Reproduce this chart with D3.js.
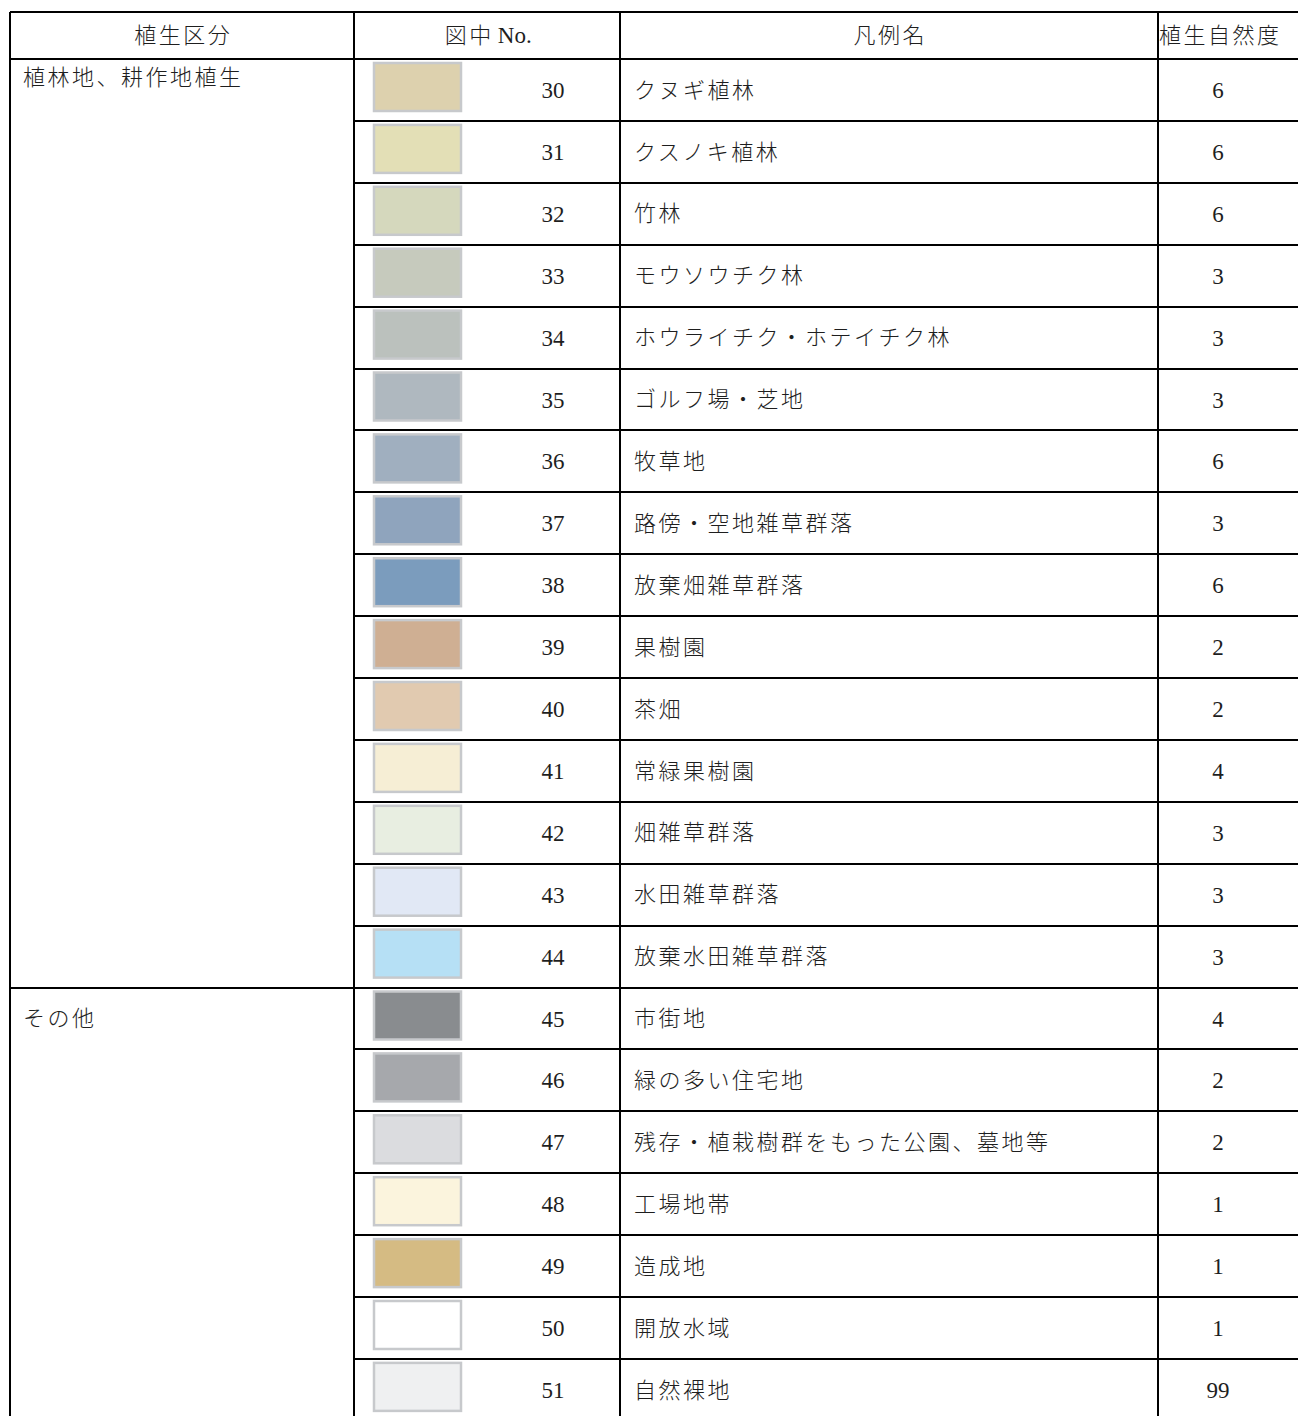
<!DOCTYPE html>
<html>
<head>
<meta charset="utf-8">
<script src="https://cdn.jsdelivr.net/npm/d3@7"></script>
<style>
  body { margin: 0; background: #fff; }
  svg { display: block; }
  .jp { font-family: "Noto Sans CJK JP", sans-serif; font-size: 22px; letter-spacing: 2.5px; fill: #1e1e1e; font-weight: 300; }
  .num { font-family: "Liberation Serif", serif; font-size: 23px; fill: #1e1e1e; font-weight: 400; letter-spacing: 0; }
</style>
</head>
<body>
<svg id="table"></svg>
<script>
// column headers
const headers = ["植生区分", "図中", "凡例名", "植生自然度"];

// groups (first column) and how many rows each spans
const groups = ["植林地、耕作地植生", "その他"];
const groupSizes = [15, 7];

// rows
const codes = [30, 31, 32, 33, 34, 35, 36, 37, 38, 39, 40, 41, 42, 43, 44, 45, 46, 47, 48, 49, 50, 51];
const names = [
  "クヌギ植林", "クスノキ植林", "竹林", "モウソウチク林", "ホウライチク・ホテイチク林",
  "ゴルフ場・芝地", "牧草地", "路傍・空地雑草群落", "放棄畑雑草群落", "果樹園",
  "茶畑", "常緑果樹園", "畑雑草群落", "水田雑草群落", "放棄水田雑草群落",
  "市街地", "緑の多い住宅地", "残存・植栽樹群をもった公園、墓地等", "工場地帯", "造成地",
  "開放水域", "自然裸地"
];
const naturalness = [6, 6, 6, 3, 3, 3, 6, 3, 6, 2, 2, 4, 3, 3, 3, 4, 2, 2, 1, 1, 1, 99];
const swatchColors = [
  "#ddd1ae", "#e3dfb6", "#d5d8bd", "#c6cabd", "#bbc1bd",
  "#afb8bf", "#a0afbf", "#8fa4bd", "#7b9cbd", "#cfaf93",
  "#e1cab0", "#f6eed5", "#e8eee1", "#e1e8f5", "#b6e0f5",
  "#898c8f", "#a6a8ac", "#dbdcdf", "#fbf4dd", "#d5bb83",
  "#ffffff", "#eff0f1"
];

const W = 1298, H = 1416;
const colEdges = [10, 354, 620, 1158, 1299];
const headerTop = 12, headerBottom = 59, rowH = 61.9;
const ls = 2.5; // letter spacing, trailing half is compensated when centering

const svg = d3.select("#table").attr("width", W).attr("height", H);

// row scale: index -> top of row
const y = d3.scaleLinear().domain([0, codes.length]).range([headerBottom, headerBottom + codes.length * rowH]);

const lines = svg.append("g").attr("stroke", "#000").attr("stroke-width", 2).attr("shape-rendering", "crispEdges");

// Header text
const headerCenters = [182, 487, 889, 1219];
headers.forEach((h, i) => {
  const t = svg.append("text")
    .attr("class", "jp")
    .attr("x", headerCenters[i] + ls / 2)
    .attr("y", (headerTop + headerBottom) / 2)
    .attr("dy", "0.35em")
    .attr("text-anchor", "middle")
    .text(h);
  if (i === 1) {
    t.append("tspan").attr("class", "num").attr("dx", 4).text("No.");
  }
});

// Groups
let start = 0;
groups.forEach((g, gi) => {
  const top = y(start);
  svg.append("text")
    .attr("class", "jp")
    .attr("x", 23)
    .attr("y", gi === 0 ? top + 18 : top + rowH / 2)
    .attr("dy", "0.35em")
    .text(g);
  // separator above the group spans the full width
  lines.append("line")
    .attr("x1", colEdges[0]).attr("x2", W)
    .attr("y1", top).attr("y2", top);
  start += groupSizes[gi];
});

// Rows
const rows = svg.append("g").selectAll("g")
  .data(codes)
  .join("g")
  .attr("transform", (d, i) => `translate(0,${y(i)})`);

rows.append("rect")
  .attr("x", 374)
  .attr("y", 4)
  .attr("width", 87)
  .attr("height", 48)
  .attr("fill", (d, i) => swatchColors[i])
  .attr("stroke", "#c7c9cc")
  .attr("stroke-width", 2.5);

rows.append("text")
  .attr("class", "num")
  .attr("x", 553)
  .attr("y", rowH / 2)
  .attr("dy", "0.35em")
  .attr("text-anchor", "middle")
  .text(d => d);

rows.append("text")
  .attr("class", "jp")
  .attr("x", 634)
  .attr("y", rowH / 2)
  .attr("dy", "0.35em")
  .text((d, i) => names[i]);

rows.append("text")
  .attr("class", "num")
  .attr("x", 1218)
  .attr("y", rowH / 2)
  .attr("dy", "0.35em")
  .attr("text-anchor", "middle")
  .text((d, i) => naturalness[i]);

// Row separators (columns 2-4 only)
codes.forEach((d, i) => {
  lines.append("line")
    .attr("x1", colEdges[1]).attr("x2", W)
    .attr("y1", y(i)).attr("y2", y(i));
});

// Top border + header bottom
lines.append("line").attr("x1", colEdges[0]).attr("x2", W).attr("y1", headerTop).attr("y2", headerTop);
lines.append("line").attr("x1", colEdges[0]).attr("x2", W).attr("y1", headerBottom).attr("y2", headerBottom);

// Vertical lines
colEdges.forEach(x => {
  lines.append("line").attr("x1", x).attr("x2", x).attr("y1", headerTop).attr("y2", y(codes.length));
});
</script>
</body>
</html>
